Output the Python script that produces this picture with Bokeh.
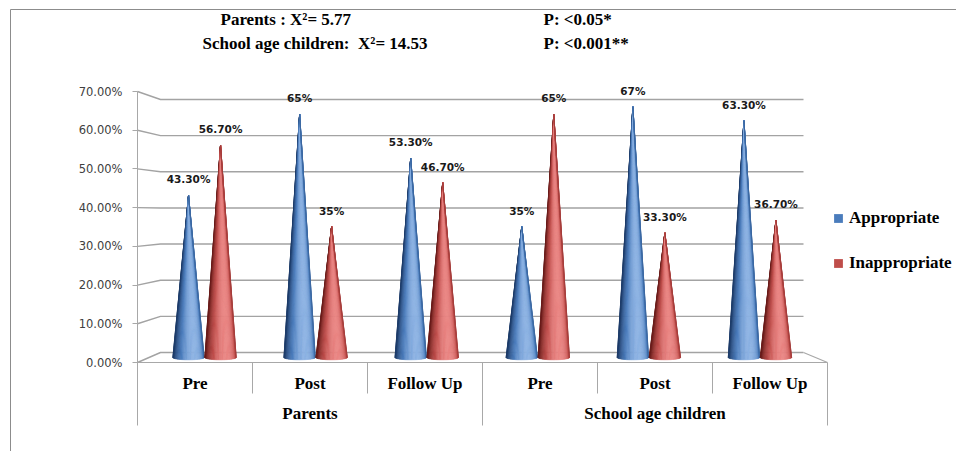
import numpy as np
from bokeh.plotting import figure
from bokeh.models import (ColumnDataSource, Range1d, LinearAxis, FixedTicker,
                          PrintfTickFormatter, Legend, LegendItem)
from bokeh.core.properties import value
from bokeh.embed import file_html
from bokeh.resources import INLINE

# ---- data -----------------------------------------------------------------
groups = ["Parents", "School age children"]
phases = ["Pre", "Post", "Follow Up"]
series_names = ["Appropriate", "Inappropriate"]
appropriate = [43.3, 65.0, 53.3, 35.0, 67.0, 63.3]
inappropriate = [56.7, 35.0, 46.7, 65.0, 33.3, 36.7]
y_ticks = [0, 10, 20, 30, 40, 50, 60, 70]
stats_left = ["Parents : X\u00b2= 5.77", "School age children: \u00a0X\u00b2= 14.53"]
stats_right = ["P: <0.05*", "P: <0.001**"]

# ---- canvas geometry ------------------------------------------------------
W, H = 956, 451
X0, PXU = 137.0, 115.0          # left edge of category band, px per category
Y0, PXV = 362.0, 271.0 / 70     # baseline, px per percentage point


def sx(px):
    return (px - X0) / PXU


def sy(py):
    return (Y0 - py) / PXV


# simple oblique projection: d=0 front plane, d=1 back wall
BACK_DX = 23 / PXU
BACK_DY = 10 / PXV
SHRINK_X = 1 - 643 / 690
SHRINK_Y = 1 - 253 / 271
N_CAT = len(groups) * len(phases)


def project(u, v, d):
    return d * BACK_DX + u * (1 - SHRINK_X * d), d * BACK_DY + v * (1 - SHRINK_Y * d)


p = figure(width=W, height=H, x_range=Range1d(sx(0), sx(W)), y_range=Range1d(sy(H), sy(0)),
           output_backend="svg", toolbar_location=None,
           x_axis_location=None, y_axis_location=None, min_border=0)
p.outline_line_color = None
p.background_fill_color = "white"
p.border_fill_color = "white"
p.grid.visible = False
for g in list(p.center):
    if g.__class__.__name__ == "Grid":
        g.visible = False

# chart-area border (top and left edges)
p.line([sx(10), sx(10), sx(W + 5)], [sy(H + 5), sy(9), sy(9)], line_color="#8c8c8c", line_width=1)

# ---- walls and floor --------------------------------------------------------
grid_xs, grid_ys = [], []
for v in y_ticks:
    a = project(0, v, 0)
    b = project(0, v, 1)
    c = project(N_CAT, v, 1)
    grid_xs.append([a[0], b[0], c[0]])
    grid_ys.append([a[1], b[1], c[1]])
p.multi_line(grid_xs, grid_ys, line_color="#a3a3a3", line_width=1.4)

f0 = project(0, 0, 0)
f1 = project(N_CAT, 0, 0)
f2 = project(N_CAT, 0, 1)
p.line([f0[0], f1[0], f2[0]], [f0[1], f1[1], f2[1]], line_color="#a8a8a8", line_width=1.2)

# category band dividers
div_x, div_y0, div_y1 = [], [], []
for k in range(1, N_CAT + 1):
    div_x.append(k)
    div_y0.append(0)
    div_y1.append(sy(425) if k % len(phases) == 0 else sy(393))
p.segment(x0=div_x, y0=div_y0, x1=div_x, y1=div_y1, line_color="#a8a8a8", line_width=1)

# ---- cones --------------------------------------------------------------------
PALETTE = {
    0: ("#1f3d6a", "#4a7cbc", "#8cb2e3"),
    1: ("#6a1d1b", "#bf4d4a", "#ea8583"),
}


def mix(c1, c2, t):
    a = [int(c1[i:i + 2], 16) for i in (1, 3, 5)]
    b = [int(c2[i:i + 2], 16) for i in (1, 3, 5)]
    return "#" + "".join(f"{int(round(x + (y - x) * t)):02x}" for x, y in zip(a, b))


def shade_color(s, theta):
    dark, mid, light = PALETTE[s]
    k = max(0.0, np.cos(theta - 0.4))
    if k < 0.65:
        return mix(dark, mid, k / 0.65)
    return mix(mid, light, (k - 0.65) / 0.35)


N_STRIP = 36
thetas = np.linspace(-np.pi / 2, np.pi / 2, N_STRIP + 1)
RX = 15.7 / PXU
RY = 2.3 / PXV
PAIR = 0.144

cone_xs, cone_ys, cone_col = [], [], []
label_x, label_y, label_t = [], [], []
tip_x, tip_y = [[], []], [[], []]
for s, vals in enumerate([appropriate, inappropriate]):
    for i, v in enumerate(vals):
        u = i + 0.5 + (PAIR if s else -PAIR)
        cx, cy0 = project(u, 0, 0.5)
        _, ytip = project(u, v, 0.5)
        for j in range(N_STRIP):
            t0, t1 = np.sin(thetas[j]), np.sin(thetas[j + 1])
            cone_xs.append([cx, cx + RX * t0, cx + RX * t1])
            cone_ys.append([ytip, cy0 - RY * np.sqrt(max(0, 1 - t0 * t0)),
                            cy0 - RY * np.sqrt(max(0, 1 - t1 * t1))])
            cone_col.append(shade_color(s, 0.5 * (thetas[j] + thetas[j + 1])))
        tip_x[s].append(cx)
        tip_y[s].append(ytip)
        label_x.append(cx)
        label_y.append(ytip + 16 / PXV)
        label_t.append(f"{v:.0f}%" if float(v).is_integer() else f"{v:.2f}%")

cones = ColumnDataSource(dict(xs=cone_xs, ys=cone_ys, color=cone_col))
p.patches("xs", "ys", source=cones, fill_color="color", line_color="color", line_width=0.6)

p.text(label_x, label_y, text=label_t, text_font=value("DejaVu Sans"), text_font_style="bold",
       text_font_size="10.5px", text_color="#1a1a1a", text_align="center", text_baseline="middle")

# ---- category labels ----------------------------------------------------------
cat_x = [k + 0.5 for k in range(N_CAT)]
cat_t = [ph for _ in groups for ph in phases]
p.text(cat_x, [sy(383)] * N_CAT, text=cat_t, text_font=value("Liberation Serif"),
       text_font_style="bold", text_font_size="17px", text_color="#000000",
       text_align="center", text_baseline="middle")
grp_x = [len(phases) * (g + 0.5) for g in range(len(groups))]
p.text(grp_x, [sy(413)] * len(groups), text=groups, text_font=value("Liberation Serif"),
       text_font_style="bold", text_font_size="17px", text_color="#000000",
       text_align="center", text_baseline="middle")

# ---- statistics header ----------------------------------------------------------
p.text([sx(220), sx(202)], [sy(19), sy(43)], text=stats_left, text_font=value("Liberation Serif"),
       text_font_style="bold", text_font_size="17px", text_color="#000000",
       text_align="left", text_baseline="middle")
p.text([sx(543), sx(543)], [sy(19), sy(43)], text=stats_right, text_font=value("Liberation Serif"),
       text_font_style="bold", text_font_size="17px", text_color="#000000",
       text_align="left", text_baseline="middle")

# ---- value axis -------------------------------------------------------------------
yaxis = LinearAxis(fixed_location=0, bounds=(sy(425), 70),
                   ticker=FixedTicker(ticks=y_ticks),
                   formatter=PrintfTickFormatter(format="%.2f%%"))
yaxis.axis_line_color = "#a8a8a8"
yaxis.major_tick_line_color = "#a8a8a8"
yaxis.major_tick_out = 5
yaxis.major_tick_in = 0
yaxis.minor_tick_line_color = None
yaxis.major_label_standoff = 10
yaxis.major_label_text_font = "DejaVu Sans"
yaxis.major_label_text_font_size = "11.5px"
yaxis.major_label_text_color = "#404040"
p.add_layout(yaxis, "left")

# ---- legend ---------------------------------------------------------------------------
# zero-size markers at the cone tips serve as the legend swatches
leg_r = [p.scatter(tip_x[s], tip_y[s], marker="square", size=0,
                   fill_color=PALETTE[s][1], line_color=None)
         for s in range(2)]
legend = Legend(items=[LegendItem(label=series_names[s], renderers=[leg_r[s]]) for s in range(2)],
                location=(827, 177), glyph_width=22, glyph_height=22, label_standoff=0,
                spacing=23, padding=0, margin=0, border_line_color=None,
                background_fill_alpha=0, label_text_font="Liberation Serif",
                label_text_font_style="bold", label_text_font_size="17px",
                label_text_color="#000000")
p.add_layout(legend)

open("out.html", "w").write(file_html(p, INLINE))
